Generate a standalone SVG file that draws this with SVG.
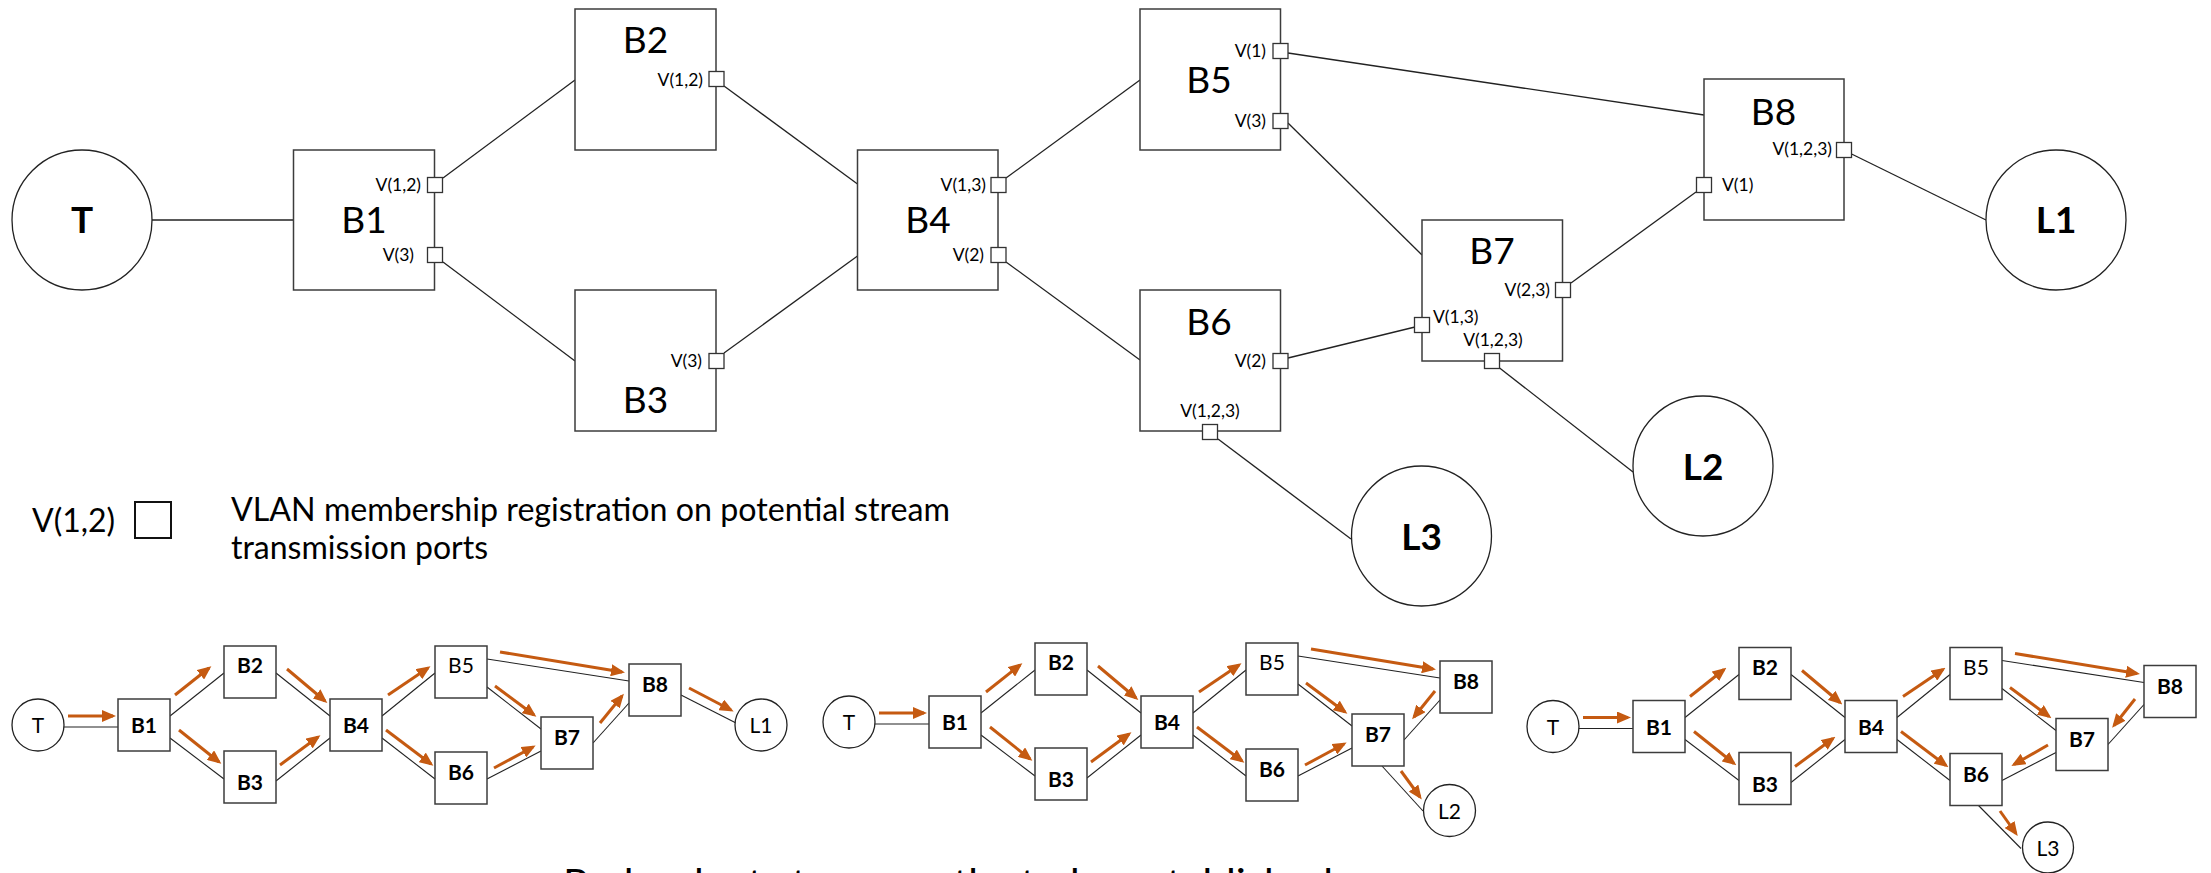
<svg xmlns="http://www.w3.org/2000/svg" width="2211" height="873" viewBox="0 0 2211 873">
<defs>
<marker id="ah" viewBox="0 0 14 12" refX="11" refY="6" markerWidth="14" markerHeight="12" markerUnits="userSpaceOnUse" orient="auto"><path d="M0,0 L14,6 L0,12 z" fill="#C55A11"/></marker>
<style>
.box{fill:#fff;stroke:#3c3c3c;stroke-width:1.5}
.end{fill:#fff;stroke:#222;stroke-width:1.3}
.port{fill:#fff;stroke:#333;stroke-width:1.3}
.ln{stroke:#222;stroke-width:1.3;fill:none}
.sl{stroke:#222;stroke-width:1.1;fill:none}
.ar{stroke:#C55A11;stroke-width:3;fill:none;marker-end:url(#ah)}
text{font-family:Lato,'Liberation Sans',sans-serif;fill:#000}
.nl{font-size:37px;text-anchor:middle}
.nb{font-size:37px;font-weight:bold;text-anchor:middle}
.pl{font-size:17.5px}
.pe{font-size:17.5px;text-anchor:end}
.pm{font-size:17.5px;text-anchor:middle}
.sb{font-size:21px;font-weight:bold;text-anchor:middle}
.sr{font-size:21px;text-anchor:middle}
</style>
</defs>
<rect width="2211" height="873" fill="#fff"/>

<!-- main connectors -->
<g id="connectors">
<line class="ln" x1="152" y1="220" x2="293.5" y2="220"/>
<line class="ln" x1="443" y1="178" x2="575" y2="80"/>
<line class="ln" x1="443" y1="262" x2="575" y2="361"/>
<line class="ln" x1="724" y1="86" x2="857.5" y2="184"/>
<line class="ln" x1="724" y1="353" x2="857.5" y2="256"/>
<line class="ln" x1="1006" y1="178" x2="1140" y2="80"/>
<line class="ln" x1="1006" y1="262" x2="1140" y2="360"/>
<line class="ln" x1="1288" y1="53" x2="1704" y2="115"/>
<line class="ln" x1="1288" y1="123" x2="1422" y2="255"/>
<line class="ln" x1="1288" y1="358" x2="1415" y2="327"/>
<line class="ln" x1="1571" y1="283" x2="1696" y2="192"/>
<line class="ln" x1="1851.6" y1="154" x2="1986" y2="220"/>
<line class="ln" x1="1499.6" y1="368" x2="1633" y2="472"/>
<line class="ln" x1="1218" y1="439" x2="1351" y2="539"/>
</g>

<g id="T"><circle class="end" cx="82" cy="220" r="70"/><text class="nb" x="82" y="233">T</text></g>
<g id="B1"><rect class="box" x="293.5" y="150" width="141" height="140"/><text class="nl" x="364" y="233">B1</text>
<rect class="port" x="427.5" y="177.5" width="15" height="15"/><text class="pe" x="421" y="191">V(1,2)</text>
<rect class="port" x="427.5" y="247.5" width="15" height="15"/><text class="pe" x="414" y="261">V(3)</text></g>
<g id="B2"><rect class="box" x="575" y="9" width="141" height="141"/><text class="nl" x="645.5" y="53">B2</text>
<rect class="port" x="709" y="71.5" width="15" height="15"/><text class="pe" x="703" y="86">V(1,2)</text></g>
<g id="B3"><rect class="box" x="575" y="290" width="141" height="141"/><text class="nl" x="645.5" y="413">B3</text>
<rect class="port" x="709" y="353.5" width="15" height="15"/><text class="pe" x="702" y="367">V(3)</text></g>
<g id="B4"><rect class="box" x="857.5" y="150" width="140.5" height="140"/><text class="nl" x="928" y="233">B4</text>
<rect class="port" x="991" y="177.5" width="15" height="15"/><text class="pe" x="986" y="191">V(1,3)</text>
<rect class="port" x="991" y="247.5" width="15" height="15"/><text class="pe" x="984" y="261">V(2)</text></g>
<g id="B5"><rect class="box" x="1140" y="9" width="140.5" height="141"/><text class="nl" x="1209" y="93">B5</text>
<rect class="port" x="1273" y="43.5" width="15" height="15"/><text class="pe" x="1266" y="57">V(1)</text>
<rect class="port" x="1273" y="113.5" width="15" height="15"/><text class="pe" x="1266" y="127">V(3)</text></g>
<g id="B6"><rect class="box" x="1140" y="290" width="140.5" height="141"/><text class="nl" x="1209" y="335">B6</text>
<rect class="port" x="1273" y="353.5" width="15" height="15"/><text class="pe" x="1266" y="367">V(2)</text>
<rect class="port" x="1202.5" y="424.5" width="15" height="15"/><text class="pm" x="1210" y="417">V(1,2,3)</text></g>
<g id="B7"><rect class="box" x="1422" y="220" width="140.5" height="141"/><text class="nl" x="1492" y="264">B7</text>
<rect class="port" x="1555.5" y="282.5" width="15" height="15"/><text class="pe" x="1550" y="296">V(2,3)</text>
<rect class="port" x="1414.5" y="317.5" width="15" height="15"/><text class="pl" x="1433" y="323">V(1,3)</text>
<rect class="port" x="1484.5" y="353.5" width="15" height="15"/><text class="pm" x="1493" y="346">V(1,2,3)</text></g>
<g id="B8"><rect class="box" x="1704" y="79" width="140" height="141"/><text class="nl" x="1773.5" y="125">B8</text>
<rect class="port" x="1836.5" y="142.5" width="15" height="15"/><text class="pe" x="1832" y="155">V(1,2,3)</text>
<rect class="port" x="1696.5" y="177.5" width="15" height="15"/><text class="pl" x="1722" y="191">V(1)</text></g>
<g id="L1"><circle class="end" cx="2056" cy="220" r="70"/><text class="nb" x="2056" y="233">L1</text></g>
<g id="L2"><circle class="end" cx="1703" cy="466" r="70"/><text class="nb" x="1703" y="480">L2</text></g>
<g id="L3"><circle class="end" cx="1421.5" cy="536" r="70"/><text class="nb" x="1421.5" y="550">L3</text></g>

<!-- legend -->
<g id="legend">
<text x="32" y="532" style="font-size:32px">V(1,2)</text>
<rect x="135" y="502" width="36" height="36" fill="#fff" stroke="#111" stroke-width="2"/>
<text x="231" y="521" style="font-size:32px" textLength="719" lengthAdjust="spacingAndGlyphs">VLAN membership registration on potential stream</text>
<text x="231" y="559" style="font-size:32px" textLength="257" lengthAdjust="spacingAndGlyphs">transmission ports</text>
</g>

<!-- small diagram 1 -->
<g id="d1">
<g id="d1-links">
<line class="sl" x1="64" y1="727" x2="118" y2="727"/>
<line class="sl" x1="170" y1="716" x2="224" y2="673"/>
<line class="sl" x1="170" y1="738" x2="224" y2="779"/>
<line class="sl" x1="276" y1="673" x2="330" y2="716"/>
<line class="sl" x1="276" y1="781" x2="330" y2="738"/>
<line class="sl" x1="382" y1="716" x2="435" y2="673"/>
<line class="sl" x1="382" y1="738" x2="435" y2="779"/>
<line class="sl" x1="487" y1="659" x2="629" y2="681"/>
<line class="sl" x1="487" y1="687" x2="541" y2="729"/>
<line class="sl" x1="487" y1="779" x2="541" y2="751"/>
<line class="sl" x1="593" y1="743" x2="629" y2="703"/>
<line class="sl" x1="681" y1="695" x2="736" y2="723"/>
</g>
<g id="d1-arrows">
<line class="ar" x1="68" y1="716" x2="113" y2="716"/>
<line class="ar" x1="175" y1="695" x2="209" y2="668"/>
<line class="ar" x1="179" y1="730" x2="219" y2="762"/>
<line class="ar" x1="287" y1="669" x2="325" y2="701"/>
<line class="ar" x1="280" y1="765" x2="318" y2="737"/>
<line class="ar" x1="388" y1="695" x2="428" y2="668"/>
<line class="ar" x1="386" y1="730" x2="431" y2="764"/>
<line class="ar" x1="500" y1="652" x2="622" y2="672"/>
<line class="ar" x1="495" y1="686" x2="534" y2="715"/>
<line class="ar" x1="494" y1="768" x2="533" y2="747"/>
<line class="ar" x1="600" y1="723" x2="622" y2="696"/>
<line class="ar" x1="689" y1="688" x2="731" y2="710"/>
</g>
<g id="d1-T"><circle class="end" cx="38" cy="725" r="26"/><text class="sr" x="38" y="733">T</text></g>
<g id="d1-B1"><rect class="box" x="118" y="699" width="52" height="52"/><text class="sb" x="144" y="733">B1</text></g>
<g id="d1-B2"><rect class="box" x="224" y="646" width="52" height="52"/><text class="sb" x="250" y="673">B2</text></g>
<g id="d1-B3"><rect class="box" x="224" y="751" width="52" height="52"/><text class="sb" x="250" y="790">B3</text></g>
<g id="d1-B4"><rect class="box" x="330" y="699" width="52" height="52"/><text class="sb" x="356" y="733">B4</text></g>
<g id="d1-B5"><rect class="box" x="435" y="646" width="52" height="52"/><text class="sr" x="461" y="673">B5</text></g>
<g id="d1-B6"><rect class="box" x="435" y="752" width="52" height="52"/><text class="sb" x="461" y="780">B6</text></g>
<g id="d1-B7"><rect class="box" x="541" y="717" width="52" height="52"/><text class="sb" x="567" y="745">B7</text></g>
<g id="d1-B8"><rect class="box" x="629" y="664" width="52" height="52"/><text class="sb" x="655" y="692">B8</text></g>
<g id="d1-L1"><circle class="end" cx="761" cy="725" r="26"/><text class="sr" x="761" y="733">L1</text></g>
</g>

<!-- small diagram 2 -->
<g id="d2" transform="translate(811,-3)">
<g id="d2-links">
<line class="sl" x1="64" y1="727" x2="118" y2="727"/>
<line class="sl" x1="170" y1="716" x2="224" y2="673"/>
<line class="sl" x1="170" y1="738" x2="224" y2="779"/>
<line class="sl" x1="276" y1="673" x2="330" y2="716"/>
<line class="sl" x1="276" y1="781" x2="330" y2="738"/>
<line class="sl" x1="382" y1="716" x2="435" y2="673"/>
<line class="sl" x1="382" y1="738" x2="435" y2="779"/>
<line class="sl" x1="487" y1="659" x2="629" y2="681"/>
<line class="sl" x1="487" y1="687" x2="541" y2="729"/>
<line class="sl" x1="487" y1="779" x2="541" y2="751"/>
<line class="sl" x1="593" y1="743" x2="629" y2="703"/>
<line class="sl" x1="571" y1="769" x2="612" y2="814"/>
</g>
<g id="d2-arrows">
<line class="ar" x1="68" y1="716" x2="113" y2="716"/>
<line class="ar" x1="175" y1="695" x2="209" y2="668"/>
<line class="ar" x1="179" y1="730" x2="219" y2="762"/>
<line class="ar" x1="287" y1="669" x2="325" y2="701"/>
<line class="ar" x1="280" y1="765" x2="318" y2="737"/>
<line class="ar" x1="388" y1="695" x2="428" y2="668"/>
<line class="ar" x1="386" y1="730" x2="431" y2="764"/>
<line class="ar" x1="500" y1="652" x2="622" y2="672"/>
<line class="ar" x1="495" y1="686" x2="534" y2="715"/>
<line class="ar" x1="494" y1="768" x2="533" y2="747"/>
<line class="ar" x1="624" y1="694" x2="603" y2="720"/>
<line class="ar" x1="590" y1="774" x2="609" y2="800"/>
</g>
<g id="d2-T"><circle class="end" cx="38" cy="725" r="26"/><text class="sr" x="38" y="733">T</text></g>
<g id="d2-B1"><rect class="box" x="118" y="699" width="52" height="52"/><text class="sb" x="144" y="733">B1</text></g>
<g id="d2-B2"><rect class="box" x="224" y="646" width="52" height="52"/><text class="sb" x="250" y="673">B2</text></g>
<g id="d2-B3"><rect class="box" x="224" y="751" width="52" height="52"/><text class="sb" x="250" y="790">B3</text></g>
<g id="d2-B4"><rect class="box" x="330" y="699" width="52" height="52"/><text class="sb" x="356" y="733">B4</text></g>
<g id="d2-B5"><rect class="box" x="435" y="646" width="52" height="52"/><text class="sr" x="461" y="673">B5</text></g>
<g id="d2-B6"><rect class="box" x="435" y="752" width="52" height="52"/><text class="sb" x="461" y="780">B6</text></g>
<g id="d2-B7"><rect class="box" x="541" y="717" width="52" height="52"/><text class="sb" x="567" y="745">B7</text></g>
<g id="d2-B8"><rect class="box" x="629" y="664" width="52" height="52"/><text class="sb" x="655" y="692">B8</text></g>
<g id="d2-L2"><circle class="end" cx="638.5" cy="813.5" r="26"/><text class="sr" x="638.5" y="821.5">L2</text></g>
</g>

<!-- small diagram 3 -->
<g id="d3" transform="translate(1515,1.5)">
<g id="d3-links">
<line class="sl" x1="64" y1="727" x2="118" y2="727"/>
<line class="sl" x1="170" y1="716" x2="224" y2="673"/>
<line class="sl" x1="170" y1="738" x2="224" y2="779"/>
<line class="sl" x1="276" y1="673" x2="330" y2="716"/>
<line class="sl" x1="276" y1="781" x2="330" y2="738"/>
<line class="sl" x1="382" y1="716" x2="435" y2="673"/>
<line class="sl" x1="382" y1="738" x2="435" y2="779"/>
<line class="sl" x1="487" y1="659" x2="629" y2="681"/>
<line class="sl" x1="487" y1="687" x2="541" y2="729"/>
<line class="sl" x1="487" y1="779" x2="541" y2="751"/>
<line class="sl" x1="593" y1="743" x2="629" y2="703"/>
<line class="sl" x1="463.5" y1="804" x2="506" y2="847"/>
</g>
<g id="d3-arrows">
<line class="ar" x1="68" y1="716" x2="113" y2="716"/>
<line class="ar" x1="175" y1="695" x2="209" y2="668"/>
<line class="ar" x1="179" y1="730" x2="219" y2="762"/>
<line class="ar" x1="287" y1="669" x2="325" y2="701"/>
<line class="ar" x1="280" y1="765" x2="318" y2="737"/>
<line class="ar" x1="388" y1="695" x2="428" y2="668"/>
<line class="ar" x1="386" y1="730" x2="431" y2="764"/>
<line class="ar" x1="500" y1="652" x2="622" y2="672"/>
<line class="ar" x1="495" y1="686" x2="534" y2="715"/>
<line class="ar" x1="620" y1="697.5" x2="599" y2="724"/>
<line class="ar" x1="533" y1="743.5" x2="499" y2="763"/>
<line class="ar" x1="485" y1="809.5" x2="501" y2="832"/>
</g>
<g id="d3-T"><circle class="end" cx="38" cy="725" r="26"/><text class="sr" x="38" y="733">T</text></g>
<g id="d3-B1"><rect class="box" x="118" y="699" width="52" height="52"/><text class="sb" x="144" y="733">B1</text></g>
<g id="d3-B2"><rect class="box" x="224" y="646" width="52" height="52"/><text class="sb" x="250" y="673">B2</text></g>
<g id="d3-B3"><rect class="box" x="224" y="751" width="52" height="52"/><text class="sb" x="250" y="790">B3</text></g>
<g id="d3-B4"><rect class="box" x="330" y="699" width="52" height="52"/><text class="sb" x="356" y="733">B4</text></g>
<g id="d3-B5"><rect class="box" x="435" y="646" width="52" height="52"/><text class="sr" x="461" y="673">B5</text></g>
<g id="d3-B6"><rect class="box" x="435" y="752" width="52" height="52"/><text class="sb" x="461" y="780">B6</text></g>
<g id="d3-B7"><rect class="box" x="541" y="717" width="52" height="52"/><text class="sb" x="567" y="745">B7</text></g>
<g id="d3-B8"><rect class="box" x="629" y="664" width="52" height="52"/><text class="sb" x="655" y="692">B8</text></g>
<g id="d3-L3"><circle class="end" cx="533" cy="846" r="25.5"/><text class="sr" x="533" y="854">L3</text></g>
</g>

<text id="caption" x="563" y="897" style="font-size:38px" textLength="770" lengthAdjust="spacingAndGlyphs">Redundant stream paths to be established</text>
</svg>
